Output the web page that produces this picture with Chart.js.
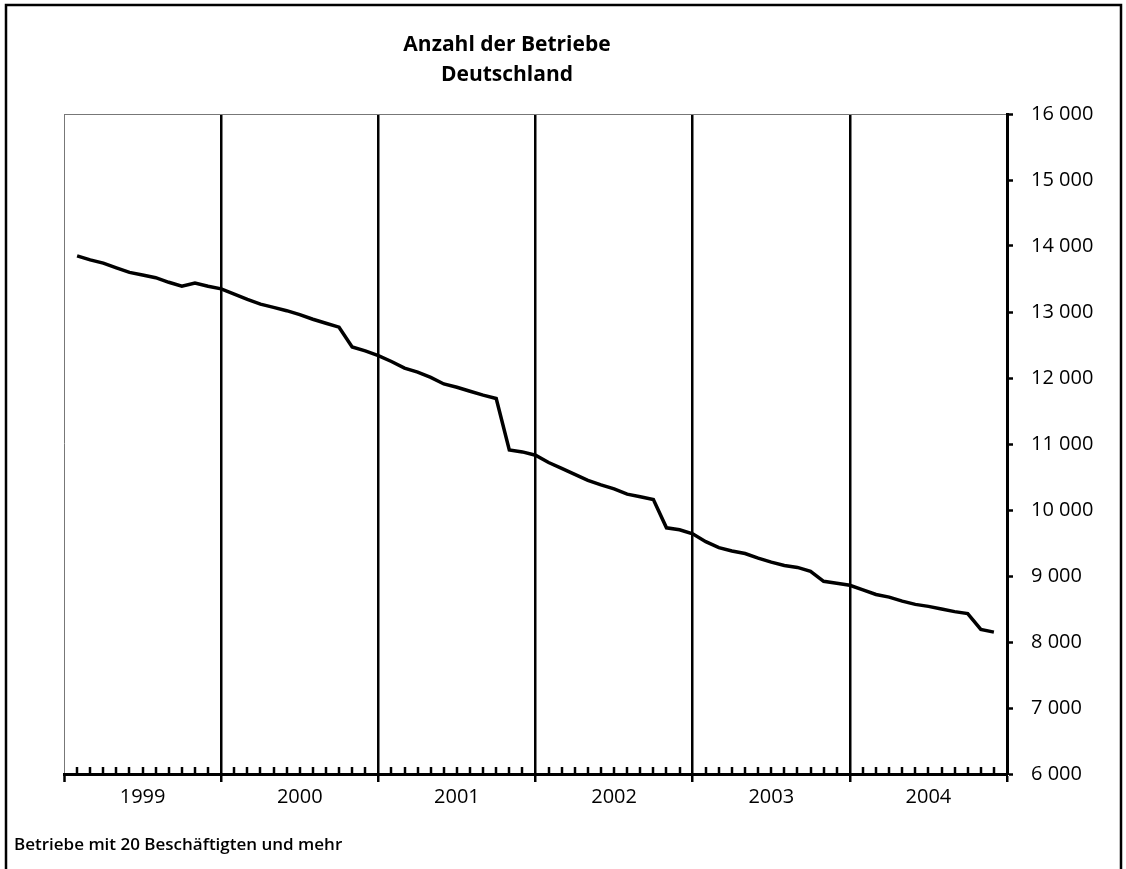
<!DOCTYPE html>
<html>
<head>
<meta charset="utf-8">
<script src="https://cdn.jsdelivr.net/npm/chart.js@4/dist/chart.umd.min.js"></script>
<style>
    html, body { margin: 0; padding: 0; background: #fff; }
    canvas { display: block; }
</style>
</head>
<body>
<canvas id="betriebeChart" width="1126" height="869"></canvas>
<script>
// Anzahl der Betriebe, monatlich Jan 1999 - Nov 2004
const years = ['1999', '2000', '2001', '2002', '2003', '2004'];
const betriebe1999 = [13850, 13790, 13740, 13670, 13600, 13560, 13520, 13450, 13390, 13440, 13390, 13350];
const betriebe2000 = [13270, 13190, 13120, 13070, 13020, 12960, 12890, 12830, 12770, 12470, 12410, 12340];
const betriebe2001 = [12250, 12150, 12090, 12010, 11910, 11860, 11800, 11740, 11690, 10910, 10880, 10830];
const betriebe2002 = [10720, 10630, 10540, 10450, 10380, 10320, 10240, 10200, 10160, 9730, 9700, 9640];
const betriebe2003 = [9520, 9430, 9380, 9340, 9270, 9210, 9160, 9130, 9070, 8920, 8890, 8860];
const betriebe2004 = [8790, 8720, 8680, 8620, 8570, 8540, 8500, 8460, 8430, 8190, 8150];
const yTicks = [6000, 7000, 8000, 9000, 10000, 11000, 12000, 13000, 14000, 15000, 16000];

const titleLines = ['Anzahl der Betriebe', 'Deutschland'];
const footnote = 'Betriebe mit 20 Beschäftigten und mehr';

const allValues = [].concat(betriebe1999, betriebe2000, betriebe2001, betriebe2002, betriebe2003, betriebe2004);
// Punkt i liegt am Monatsende (Monat i+1 auf der Achse)
const points = allValues.map((v, i) => ({ x: i + 1, y: v }));

const FONT = '"Open Sans", "Noto Sans", sans-serif';

// Rahmen, Titel, Fussnote und kleine Monatsstriche
const decorations = {
    id: 'decorations',
    afterDraw(chart) {
        const ctx = chart.ctx;
        const xs = chart.scales.x;
        const area = chart.chartArea;
        ctx.save();

        // Monatsstriche nach innen
        ctx.strokeStyle = '#000';
        ctx.lineWidth = 2.5;
        for (let k = 1; k < 72; k++) {
            if (k % 12 === 0) continue;
            const px = Math.round(xs.getPixelForValue(k));
            ctx.beginPath();
            ctx.moveTo(px, area.bottom);
            ctx.lineTo(px, area.bottom - 7);
            ctx.stroke();
        }

        // Aeusserer Rahmen
        ctx.lineWidth = 2.5;
        ctx.beginPath();
        ctx.moveTo(6, 869);
        ctx.lineTo(6, 5);
        ctx.lineTo(1121, 5);
        ctx.lineTo(1121, 869);
        ctx.stroke();

        // Titel
        ctx.fillStyle = '#000';
        ctx.textAlign = 'center';
        ctx.textBaseline = 'middle';
        ctx.font = 'bold 21px ' + FONT;
        ctx.fillText(titleLines[0], 507, 45);
        ctx.fillText(titleLines[1], 507, 75);

        // Fussnote
        ctx.textAlign = 'left';
        ctx.font = '600 17px ' + FONT;
        ctx.fillText(footnote, 14, 845);
        ctx.restore();
    }
};

const ctx = document.getElementById('betriebeChart').getContext('2d');
const betriebeChart = new Chart(ctx, {
    type: 'line',
    data: {
        datasets: [{
            label: 'Betriebe',
            data: points,
            borderColor: '#000',
            borderWidth: 3.5,
            pointRadius: 0,
            tension: 0,
            fill: false
        }]
    },
    options: {
        responsive: false,
        animation: false,
        devicePixelRatio: 1,
        layout: { padding: { left: 64, top: 114, right: 0, bottom: 0 } },
        plugins: {
            legend: { display: false },
            title: { display: false },
            tooltip: { enabled: false }
        },
        scales: {
            x: {
                type: 'linear',
                min: 0,
                max: 72,
                afterBuildTicks: (scale) => {
                    const t = [];
                    for (let v = 0; v <= 72; v += 6) t.push({ value: v });
                    scale.ticks = t;
                },
                afterFit: (scale) => { scale.height = 95; },
                ticks: {
                    autoSkip: false,
                    maxRotation: 0,
                    padding: 3,
                    color: '#000',
                    font: { family: FONT, size: 20 },
                    callback: (v) => (v % 12 === 6 ? years[(v - 6) / 12] : '')
                },
                grid: {
                    color: (c) => {
                        const v = c.tick ? c.tick.value : -1;
                        if (v === 0) return '#777';
                        return v % 12 === 0 ? '#000' : 'rgba(0,0,0,0)';
                    },
                    lineWidth: (c) => (c.tick && c.tick.value === 0 ? 1 : 2.5),
                    tickColor: (c) => (c.tick && c.tick.value % 12 === 0 ? '#000' : 'rgba(0,0,0,0)'),
                    tickWidth: 2.5,
                    tickLength: 8
                },
                border: { color: '#000', width: 3 }
            },
            y: {
                position: 'right',
                min: 6000,
                max: 16000,
                afterBuildTicks: (scale) => {
                    scale.ticks = yTicks.map((v) => ({ value: v }));
                },
                afterFit: (scale) => { scale.width = 119; },
                ticks: {
                    padding: 18,
                    color: '#000',
                    font: { family: FONT, size: 20 },
                    callback: (v) => String(v).replace(/\B(?=(\d{3})+(?!\d))/g, ' ')
                },
                grid: {
                    color: (c) => (c.tick && c.tick.value === 16000 ? '#777' : 'rgba(0,0,0,0)'),
                    lineWidth: 1,
                    tickColor: '#000',
                    tickWidth: 2.5,
                    tickLength: 6
                },
                border: { color: '#000', width: 3 }
            }
        }
    },
    plugins: [decorations]
});
</script>
</body>
</html>
